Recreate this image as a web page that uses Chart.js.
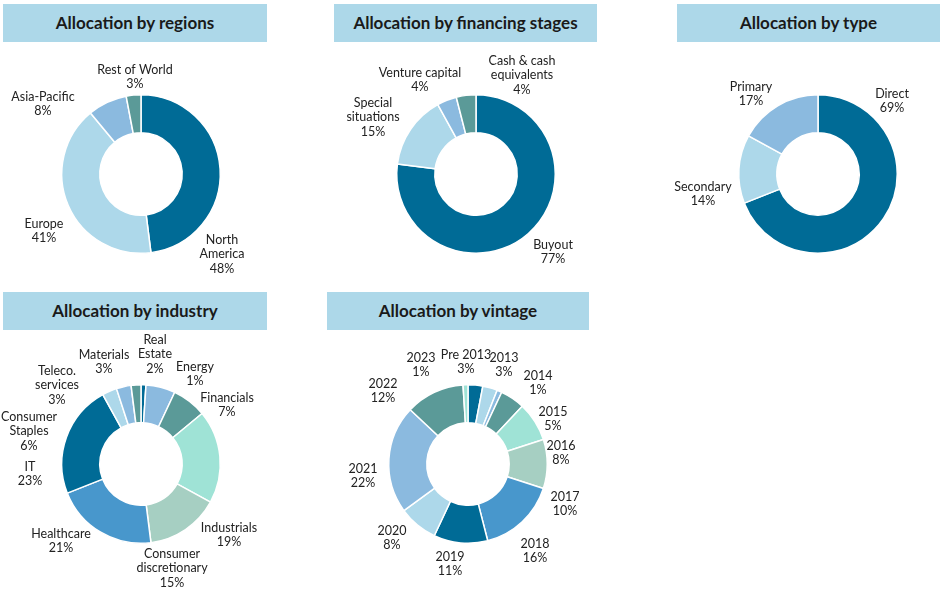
<!DOCTYPE html>
<html>
<head>
<meta charset="utf-8">
<title>Portfolio allocation</title>
<script src="https://cdn.jsdelivr.net/npm/chart.js@4.4.1/dist/chart.umd.min.js"></script>
<style>
  body { margin: 0; width: 944px; height: 590px; overflow: hidden; background: #fff; font-family: Lato, sans-serif; }
  .title {
    position: absolute; height: 38px; line-height: 38px; background: #add8e9;
    text-align: center; font-weight: bold; font-size: 17px; color: #1a1a1a;
  }
  .donut { position: absolute; width: 320px; height: 300px; }
</style>
</head>
<body>
<div class="title" style="left:3px;top:4px;width:264px">Allocation by regions</div>
<div class="title" style="left:334px;top:4px;width:263px">Allocation by financing stages</div>
<div class="title" style="left:677px;top:4px;width:263px">Allocation by type</div>
<div class="title" style="left:3px;top:292px;width:264px">Allocation by industry</div>
<div class="title" style="left:327px;top:292px;width:262px">Allocation by vintage</div>

<div class="donut" style="left:-19px;top:24px"><canvas id="regionsChart"></canvas></div>
<div class="donut" style="left:316px;top:24px"><canvas id="stagesChart"></canvas></div>
<div class="donut" style="left:658px;top:24px"><canvas id="typeChart"></canvas></div>
<div class="donut" style="left:-19px;top:314px"><canvas id="industryChart"></canvas></div>
<div class="donut" style="left:308px;top:314px"><canvas id="vintageChart"></canvas></div>

<script>
// data
const regionNames = ['North\nAmerica', 'Europe', 'Asia-Pacific', 'Rest of World'];
const regionValues = [48, 41, 8, 3];

const stageNames = ['Buyout', 'Special\nsituations', 'Venture capital', 'Cash & cash\nequivalents'];
const stageValues = [77, 15, 4, 4];

const typeNames = ['Direct', 'Secondary', 'Primary'];
const typeValues = [69, 14, 17];

const industryNames = ['Energy', 'Consumer\nStaples', 'Financials', 'Industrials', 'Consumer\ndiscretionary',
  'Healthcare', 'IT', 'Teleco.\nservices', 'Materials', 'Real\nEstate'];
const industryValues = [1, 6, 7, 19, 15, 21, 23, 3, 3, 2];

const vintageNames = ['Pre 2013', '2013', '2014', '2015', '2016', '2017', '2018', '2019', '2020', '2021', '2022', '2023'];
const vintageValues = [3, 3, 1, 5, 8, 10, 16, 11, 8, 22, 12, 1];

// colours
const darkBlue = '#006b96';
const lightBlue = '#add8ea';
const midBlue = '#8bbadf';
const teal = '#5b9a98';
const mint = '#9fe3d6';
const sage = '#a6cfc2';
const blue = '#4897cc';

// where each label sits, relative to the donut centre
const regionSpots = [[81, 80], [-97, 57], [-98, -70], [-6, -97]];
const stageSpots = [[77, 78], [-103, -57], [-56, -94], [46, -99]];
const typeSpots = [[74, -73], [-115, 20], [-67, -80]];
const industrySpots = [[54, -90], [-112, -33], [86, -59], [88, 71], [31, 104],
  [-80, 77], [-111, 10], [-84, -79], [-37, -102], [14, -110]];
const vintageSpots = [[-2, -102], [36, -99], [70, -81], [85, -45], [93, -11], [97, 40],
  [67, 87], [-18, 100], [-76, 74], [-105, 12], [-85, -73], [-47, -99]];

const outsideLabels = {
  id: 'outsideLabels',
  afterDatasetsDraw(chart, args, opts) {
    const ctx = chart.ctx;
    const meta = chart.getDatasetMeta(0);
    const values = chart.data.datasets[0].data;
    ctx.save();
    ctx.font = '12.5px Lato';
    ctx.fillStyle = '#222';
    ctx.textAlign = 'center';
    ctx.textBaseline = 'middle';
    meta.data.forEach((arc, i) => {
      const lines = chart.data.labels[i].split('\n').concat(values[i] + '%');
      const spot = opts.spots[i];
      const lineHeight = 14.5;
      const top = arc.y + spot[1] - (lines.length - 1) * lineHeight / 2;
      lines.forEach((line, j) => {
        ctx.fillText(line, arc.x + spot[0], top + j * lineHeight);
      });
    });
    ctx.restore();
  }
};

function makeDonut(id, names, values, colors, spots) {
  return new Chart(document.getElementById(id), {
    type: 'doughnut',
    data: {
      labels: names,
      datasets: [{
        data: values,
        backgroundColor: colors,
        borderColor: '#fff',
        borderWidth: 1.5
      }]
    },
    options: {
      responsive: true,
      maintainAspectRatio: false,
      animation: false,
      cutout: '52%',
      layout: { padding: { left: 80, right: 80, top: 70, bottom: 70 } },
      plugins: {
        legend: { display: false },
        tooltip: { enabled: false },
        outsideLabels: { spots: spots }
      }
    },
    plugins: [outsideLabels]
  });
}

makeDonut('regionsChart', regionNames, regionValues, [darkBlue, lightBlue, midBlue, teal], regionSpots);
makeDonut('stagesChart', stageNames, stageValues, [darkBlue, lightBlue, midBlue, teal], stageSpots);
makeDonut('typeChart', typeNames, typeValues, [darkBlue, lightBlue, midBlue], typeSpots);
makeDonut('industryChart', industryNames, industryValues,
  [darkBlue, midBlue, teal, mint, sage, blue, darkBlue, lightBlue, midBlue, teal], industrySpots);
makeDonut('vintageChart', vintageNames, vintageValues,
  [darkBlue, lightBlue, midBlue, teal, mint, sage, blue, darkBlue, lightBlue, midBlue, teal, mint], vintageSpots);
</script>
</body>
</html>
